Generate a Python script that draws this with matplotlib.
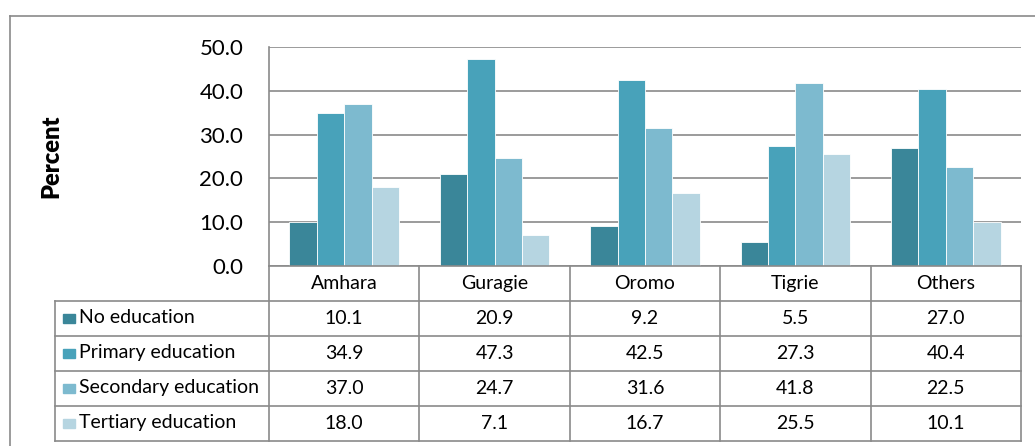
import matplotlib.pyplot as plt
from matplotlib.patches import Rectangle
import numpy as np

groups = ['Amhara', 'Guragie', 'Oromo', 'Tigrie', 'Others']
series = ['No education', 'Primary education', 'Secondary education', 'Tertiary education']
no_edu = [10.1, 20.9, 9.2, 5.5, 27.0]
primary = [34.9, 47.3, 42.5, 27.3, 40.4]
secondary = [37.0, 24.7, 31.6, 41.8, 22.5]
tertiary = [18.0, 7.1, 16.7, 25.5, 10.1]
y_ticks = [0, 10, 20, 30, 40, 50]

values = [no_edu, primary, secondary, tertiary]
colors = ['#3a8699', '#48a2ba', '#7dbacf', '#b6d5e1']
grey = '#8a8a8a'

plt.rcParams['font.family'] = ['Lato', 'DejaVu Sans']

W, H = 1035, 446
fig = plt.figure(figsize=(W / 100, H / 100), dpi=100)

def px_rect(x0, y0, x1, y1):
    return [x0 / W, 1 - y1 / H, (x1 - x0) / W, (y1 - y0) / H]

# outer frame (right/bottom cut off)
fig.add_artist(plt.Line2D([10 / W, 10 / W], [0, 1 - 16 / H], color=grey, lw=1.2, transform=fig.transFigure))
fig.add_artist(plt.Line2D([10 / W, 1], [1 - 16 / H, 1 - 16 / H], color=grey, lw=1.2, transform=fig.transFigure))

# bar chart
ax = fig.add_axes(px_rect(269, 47, 1021, 266))
x = np.arange(len(groups))
bw = 0.1825
for i, (vals, c) in enumerate(zip(values, colors)):
    ax.bar(x + (i - 1.5) * bw, vals, width=bw, color=c, edgecolor='white', linewidth=0.6, zorder=3)
ax.set_xlim(-0.5, len(groups) - 0.5)
ax.set_ylim(0, 50)
ax.set_yticks(y_ticks)
ax.set_yticklabels([f'{v:.1f}' for v in y_ticks], fontsize=16)
ax.set_xticks([])
ax.tick_params(axis='y', length=0, pad=18.5)
ax.yaxis.grid(True, color=grey, lw=1.2, zorder=0)
for s in ['top', 'right', 'bottom']:
    ax.spines[s].set_visible(False)
ax.spines['left'].set_color(grey)
ax.spines['left'].set_linewidth(1.2)
ax.set_ylabel('Percent', fontsize=17, fontweight='heavy')
ax.yaxis.set_label_coords((62 - 269) / 752, 0.5)

# data table
tab = fig.add_axes(px_rect(55, 266, 1021, 441))
left = -0.5 - (269 - 55) / ((1021 - 269) / len(groups))
tab.set_xlim(left, len(groups) - 0.5)
tab.set_ylim(5, 0)
tab.axis('off')
lk = dict(color=grey, lw=1.2, clip_on=False)
# horizontal lines
tab.plot([-0.5, len(groups) - 0.5], [0, 0], **lk)
for r in range(1, 6):
    tab.plot([left, len(groups) - 0.5], [r, r], **lk)
# vertical lines
tab.plot([left, left], [1, 5], **lk)
for b in range(len(groups) + 1):
    tab.plot([b - 0.5, b - 0.5], [0, 5], **lk)
for j, g in enumerate(groups):
    tab.text(j, 0.5, g, ha='center', va='center', fontsize=14)
for i, (name, vals, c) in enumerate(zip(series, values, colors)):
    tab.add_patch(Rectangle((left + 0.055, i + 1.38), 0.075, 0.26, color=c, clip_on=False))
    tab.text(left + 0.16, i + 1.48, name, ha='left', va='center', fontsize=14)
    for j, v in enumerate(vals):
        tab.text(j, i + 1.5, f'{v:.1f}', ha='center', va='center', fontsize=14)

fig.savefig('out.png', dpi=100)
